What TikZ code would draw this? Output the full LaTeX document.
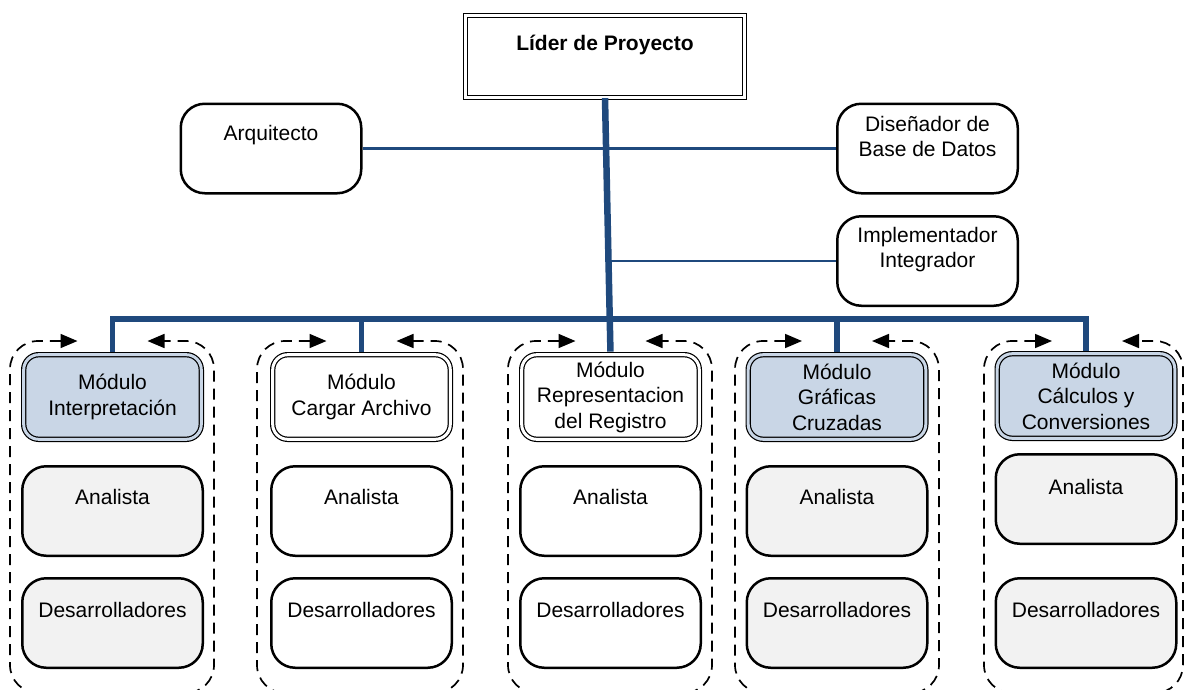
\documentclass[tikz,border=0pt]{standalone}
\usepackage{fontspec}
\setmainfont{Liberation Sans}
\usetikzlibrary{arrows.meta}
\definecolor{conblue}{HTML}{1F497D}
\definecolor{modblue}{HTML}{C9D6E6}
\definecolor{rolegray}{HTML}{F2F2F2}

\begin{document}
\begin{tikzpicture}[x=1pt,y=-1pt,
  every node/.style={font=\fontsize{21}{25.5}\selectfont, inner sep=0pt},
  txt/.style={align=center},
  leaderbox/.style={draw, line width=1.3pt, double=white, double distance=2.4pt,
    minimum width=279pt, minimum height=82pt},
  modbox/.style={draw, rounded corners=15pt, line width=1.2pt, double distance=3pt,
    minimum width=177.6pt, minimum height=84.6pt, align=center},
  rolebox/.style={draw, rounded corners=24pt, line width=2.5pt,
    minimum width=180.5pt, minimum height=89.5pt},
  wire/.style={conblue, line width=2.8pt},
  bus/.style={conblue, line width=5.5pt, line join=miter},
  trunk/.style={conblue, line width=6.5pt},
  group/.style={dash pattern=on 11pt off 7pt, line width=1.7pt, rounded corners=28pt,
    {Triangle[length=17pt,width=14pt]}-{Triangle[length=17pt,width=14pt]}}
]
\useasboundingbox (0,0) rectangle (1187,689);

% dashed team frames with inward arrows on top
\foreach \c/\l/\r in {112.5/10/214, 361.5/257/463, 610.5/508/712, 837/735/939, 1087/984/1183}
  \draw[group] (\c-35,341) -- (\l,341) -- (\l,693) -- (\r,693) -- (\r,341) -- (\c+35,341);

% project leader
\node[leaderbox] (lider) at (605,56.5) {};
\node[font=\bfseries\fontsize{21}{25.5}\selectfont] (liderT) at (605,45) {Líder de Proyecto};

% staff roles
\node[rolebox] (arq) at (271,148.5) {};
\node (arqT) at (271,135) {Arquitecto};
\node[rolebox] (dis) at (927.5,148.5) {};
\node[txt] (disT) at (927.5,136.5) {Diseñador de\\Base de Datos};
\node[rolebox] (imp) at (927.5,261) {};
\node[txt] (impT) at (927.5,249.5) {Implementador\\Integrador};

% modules
\node[modbox, fill=modblue, double=modblue] (m1) at (112.5,397) {Módulo\\Interpretación};
\node[modbox, fill=white, double=white] (m2) at (361.5,397) {Módulo\\Cargar Archivo};
\node[modbox, fill=white, double=white] (m3) at (610.5,397) {Módulo\\Representacion\\del Registro};
\node[modbox, fill=modblue, double=modblue] (m4) at (837,397) {Módulo\\Gráficas\\Cruzadas};
\node[modbox, fill=modblue, double=modblue] (m5) at (1086,396) {Módulo\\Cálculos y\\Conversiones};

% analysts
\node[rolebox, fill=rolegray] (a1) at (112.5,511) {};
\node (a1T) at (112.5,497) {Analista};
\node[rolebox, fill=white] (a2) at (361.5,511) {};
\node (a2T) at (361.5,497) {Analista};
\node[rolebox, fill=white] (a3) at (610.5,511) {};
\node (a3T) at (610.5,497) {Analista};
\node[rolebox, fill=rolegray] (a4) at (837,511) {};
\node (a4T) at (837,497) {Analista};
\node[rolebox, fill=rolegray] (a5) at (1086,499) {};
\node (a5T) at (1086,487) {Analista};

% developers
\node[rolebox, fill=rolegray] (d1) at (112.5,623) {};
\node (d1T) at (112.5,610) {Desarrolladores};
\node[rolebox, fill=white] (d2) at (361.5,623) {};
\node (d2T) at (361.5,610) {Desarrolladores};
\node[rolebox, fill=white] (d3) at (610.5,623) {};
\node (d3T) at (610.5,610) {Desarrolladores};
\node[rolebox, fill=rolegray] (d4) at (837,623) {};
\node (d4T) at (837,610) {Desarrolladores};
\node[rolebox, fill=rolegray] (d5) at (1086,623) {};
\node (d5T) at (1086,610) {Desarrolladores};

% connectors
\coordinate (busy) at (0,319);
\draw[wire] (arq.east) -- (dis.west);
\draw[wire] (lider.south |- imp.west) -- (imp.west);
\draw[bus, shorten <=2.5pt, shorten >=2.5pt] (m1.north) -- (m1.north |- busy) -- (m5.north |- busy) -- (m5.north);
\foreach \m in {m2,m4}
  \draw[bus, shorten >=2.5pt] (\m.north |- busy) -- (\m.north);
\draw[trunk, shorten >=2.5pt] (lider.south) -- (m3.north);
\end{tikzpicture}
\end{document}
